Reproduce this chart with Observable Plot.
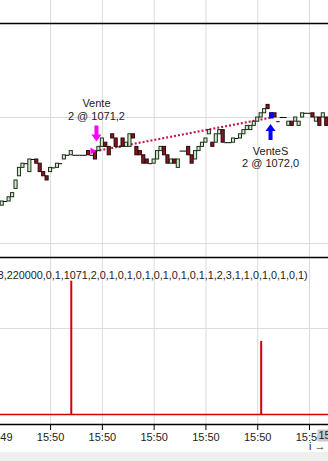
<!DOCTYPE html>
<html><head><meta charset="utf-8">
<script src="https://cdn.jsdelivr.net/npm/d3@7"></script>
<script src="https://cdn.jsdelivr.net/npm/@observablehq/plot@0.6"></script>
<style>
html,body{margin:0;padding:0;background:#fff;overflow:hidden;}
#wrap{position:relative;width:328px;height:461px;overflow:hidden;font-family:"Liberation Sans",Arial,sans-serif;}
#top{position:absolute;left:0;top:0;}
#bot{position:absolute;left:0;top:255px;}
#band{position:absolute;left:0;top:452px;width:328px;height:9px;background:#efefef;}
</style></head><body>
<div id="wrap"><div id="top"></div><div id="bot"></div><div id="band"></div></div>
<script>
const opens = [
 1069.9,1070.0,1070.0,1070.1,1070.3,1070.6,1070.8,1070.9,1070.7,1071.0,
 1071.0,1070.9,1070.7,1070.6,1070.7,1070.8,1070.8,1070.9,1071.0,1071.1,
 1071.1,1071.1,1071.1,1071.1,1071.1,1071.2,1071.1,1071.2,1071.2,1071.3,
 1071.4,1071.3,1071.6,1071.5,1071.3,1071.5,1071.3,1071.3,1071.6,1071.3,
 1071.2,1071.1,1071.0,1070.9,1070.9,1071.0,1071.2,1071.3,1071.1,1070.9,
 1071.0,1070.8,1071.2,1071.2,1071.3,1071.1,1071.0,1071.2,1071.3,1071.4,
 1071.6,1071.4,1071.4,1071.6,1071.7,1071.4,1071.4,1071.4,1071.5,1071.5,
 1071.6,1071.7,1071.7,1071.8,1071.9,1072.0,1072.1,1072.3,1072.1,1072.1,
 1071.9,1072.0,1072.0,1071.8,1071.9,1071.9,1071.8,1072.0,1072.1,1072.1,
 1072.1,1071.9,1072.0,1072.0,1072.0
];
const closes = [
 1070.0,1070.0,1070.1,1070.2,1070.5,1070.8,1070.9,1070.9,1071.0,1071.0,
 1070.9,1070.7,1070.6,1070.5,1070.8,1070.8,1070.9,1070.9,1071.1,1071.1,
 1071.2,1071.1,1071.1,1071.1,1071.1,1071.1,1071.1,1071.0,1071.3,1071.5,
 1071.3,1071.1,1071.5,1071.3,1071.3,1071.3,1071.4,1071.6,1071.5,1071.1,
 1071.1,1070.9,1070.9,1070.9,1071.0,1071.2,1071.3,1071.1,1070.9,1071.0,
 1070.9,1071.0,1071.2,1071.2,1071.1,1070.9,1071.2,1071.3,1071.4,1071.5,
 1071.7,1071.3,1071.6,1071.7,1071.4,1071.4,1071.4,1071.5,1071.5,1071.6,
 1071.7,1071.8,1071.8,1071.9,1072.0,1072.1,1072.2,1072.2,1072.0,1072.0,
 1071.9,1072.0,1072.0,1071.9,1071.8,1072.0,1071.9,1072.1,1072.1,1072.1,
 1072.0,1072.0,1071.8,1072.1,1071.8
];
const indicator = [
 0,0,0,0,0,0,0,0,0,0,
 0,0,0,0,0,0,0,0,0,0,
 3.1,0,0,0,0,0,0,0,0,0,
 0,0,0,0,0,0,0,0,0,0,
 0,0,0,0,0,0,0,0,0,0,
 0,0,0,0,0,0,0,0,0,0,
 0,0,0,0,0,0,0,0,0,0,
 0,0,0,0,0,1.7,0,0,0,0,
 0,0,0,0,0,0,0,0,0,0,
 0,0,0,0,0
];
const tickBars = [-1, 14, 29, 44, 59, 74, 89];
const tickLabels = ["15:49","15:50","15:50","15:50","15:50","15:50","15:50"];
const cursorLabel = "15";
const tradeBars = [27, 78];
const tradePrices = [1071.2, 1072.0];
const tradeLabels = ["Vente\n2 @ 1071,2", "VenteS\n2 @ 1072,0"];
const priceGrid = [1069, 1072];
const indicatorGrid = [0, 2];
const indicatorLabel = "(3,220000,0,1,1071,2,0,1,0,1,0,1,0,1,0,1,0,1,1,2,3,1,1,0,1,0,1,0,1)";

const bars = opens.map((o, i) => ({i, open: o, close: closes[i]}));
const trades = tradeBars.map((b, k) => ({bar: b, price: tradePrices[k], label: tradeLabels[k]}));
const ind = indicator.map((v, i) => ({i, v}));

const W = 328;
const xDomain = [-0.5, opens.length - 0.5];
const style = {fontFamily: "'Liberation Sans', Arial, sans-serif", fontSize: "11px", background: "white", color: "#222", overflow: "hidden"};
const GREEN = "#cdebc9", RED = "#861622";
const GRID = "#dcdcdc";
const IND = "#d40000";

const arrowDown = {draw(ctx) {
  ctx.moveTo(-2, -8); ctx.lineTo(2, -8); ctx.lineTo(2, 1); ctx.lineTo(5, 1);
  ctx.lineTo(0, 8); ctx.lineTo(-5, 1); ctx.lineTo(-2, 1); ctx.closePath();
}};
const arrowUp = {draw(ctx) {
  ctx.moveTo(-2, 8); ctx.lineTo(2, 8); ctx.lineTo(2, -1); ctx.lineTo(5, -1);
  ctx.lineTo(0, -8); ctx.lineTo(-5, -1); ctx.lineTo(-2, -1); ctx.closePath();
}};
const triRight = {draw(ctx) {
  ctx.moveTo(-3, -3.5); ctx.lineTo(3, 0); ctx.lineTo(-3, 3.5); ctx.closePath();
}};
const square = {draw(ctx) {
  ctx.rect(-2, -3, 4, 6);
}};
const cursorBox = {draw(ctx) {
  ctx.rect(0, -6, 14, 12);
}};

const yTop = [1068.714, 1074.238];
const topPlot = Plot.plot({
  width: W, height: 255, marginLeft: 0, marginRight: 0, marginTop: 23, marginBottom: 0,
  style,
  x: {domain: xDomain, axis: null},
  y: {domain: yTop, axis: null},
  color: {type: "identity"},
  marks: [
    Plot.ruleY(priceGrid, {stroke: GRID}),
    Plot.ruleX(tickBars.slice(1), {stroke: GRID, insetTop: -23}),
    Plot.ruleY([yTop[1]], {stroke: "#000", strokeWidth: 1.5}),
    Plot.link([trades], {x1: d => d[0].bar, y1: d => d[0].price, x2: d => d[1].bar, y2: d => d[1].price,
      stroke: "#c4174f", strokeWidth: 2.2, strokeDasharray: "2,2"}),
    Plot.rect(bars.filter(d => d.open !== d.close), {
      x1: d => d.i - 0.45, x2: d => d.i + 0.45, y1: "open", y2: "close",
      fill: d => d.close > d.open ? GREEN : RED,
      stroke: d => d.close > d.open ? "#1d2e1d" : "#2a0808", strokeWidth: 1}),
    Plot.ruleY(bars.filter(d => d.open === d.close), {
      x1: d => d.i - 0.5, x2: d => d.i + 0.5, y: "open", stroke: "#000", strokeWidth: 1}),
    Plot.dot(trades.slice(0, 1), {x: "bar", y: "price", symbol: triRight, fill: "#ff00ff", stroke: "none", dx: -2}),
    Plot.dot(trades.slice(1, 2), {x: "bar", y: "price", symbol: square, fill: "#0000ff", stroke: "none", dy: -2}),
    Plot.dot(trades.slice(0, 1), {x: "bar", y: "price", symbol: arrowDown, fill: "#ff00ff", stroke: "none", dx: 1, dy: -17.5}),
    Plot.dot(trades.slice(1, 2), {x: "bar", y: "price", symbol: arrowUp, fill: "#0000ff", stroke: "none", dx: -1, dy: 14.5}),
    Plot.text(trades.slice(0, 1), {x: "bar", y: "price", text: "label", dx: 1, dy: -41.5, lineHeight: 1.1, fill: "#222", fontSize: 11}),
    Plot.text(trades.slice(1, 2), {x: "bar", y: "price", text: "label", dx: -1, dy: 40, lineHeight: 1.1, fill: "#222", fontSize: 11})
  ]
});
document.getElementById("top").appendChild(topPlot);

const yBot = [-0.2326, 3.651];
const botPlot = Plot.plot({
  width: W, height: 197, marginLeft: 0, marginRight: 0, marginTop: 2, marginBottom: 28,
  style,
  x: {domain: xDomain, axis: null},
  y: {domain: yBot, axis: null},
  marks: [
    Plot.ruleY(indicatorGrid, {stroke: GRID}),
    Plot.ruleX(tickBars.slice(1), {stroke: GRID, insetTop: -2}),
    Plot.ruleY([yBot[1]], {stroke: "#000", strokeWidth: 1.5}),
    Plot.ruleY([0], {stroke: IND, strokeWidth: 1.5}),
    Plot.ruleX(ind.filter(d => d.v > 0), {x: "i", y1: 0, y2: "v", stroke: IND, strokeWidth: 2}),
    Plot.text([indicatorLabel], {text: d => d, frameAnchor: "top-right", dx: -21, dy: 18, textAnchor: "end", lineAnchor: "middle", fill: "#222", fontSize: 10.8}),
    Plot.ruleY([yBot[0]], {stroke: "#000", strokeWidth: 1.5}),
    Plot.axisX(tickBars, {anchor: "bottom", tickSize: 6, tickPadding: 3, stroke: "#000", fill: "#222", fontSize: 11,
      tickFormat: d => tickLabels[tickBars.indexOf(d)]}),
    Plot.dot([cursorLabel], {frameAnchor: "bottom-right", symbol: cursorBox, fill: "#c8c8c8", stroke: "none", dx: -11, dy: 11}),
    Plot.text([cursorLabel], {text: d => d, frameAnchor: "bottom-right", textAnchor: "start", lineAnchor: "middle", dx: -10, dy: 11, fill: "#222", fontSize: 11})
  ]
});
document.getElementById("bot").appendChild(botPlot);
</script>
</body></html>
